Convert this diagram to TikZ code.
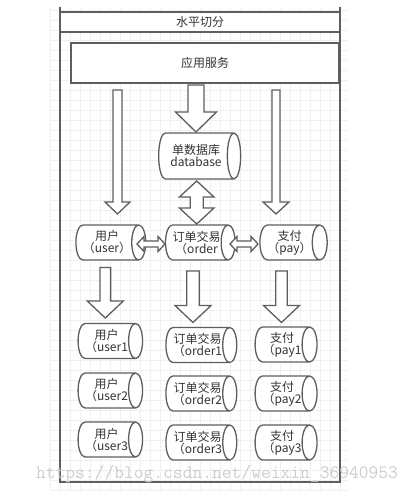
\documentclass[tikz,border=0pt]{standalone}
\usepackage{fontspec}
\newfontfamily\cjkfont{Noto Sans CJK SC}
\usetikzlibrary{shapes.geometric}
\definecolor{lnclr}{HTML}{5E5E5E}
\definecolor{txclr}{HTML}{333333}
\definecolor{gridclr}{HTML}{F0F0F0}
\definecolor{wmclr}{HTML}{CDCDCD}

% block arrow pointing down: x, top, tip, shaft half, head half, head length
\newcommand{\downblock}[6]{%
  \draw[blk] ({#1-#4},#2) -- ({#1+#4},#2) -- ({#1+#4},{#3-#6}) -- ({#1+#5},{#3-#6})
    -- (#1,#3) -- ({#1-#5},{#3-#6}) -- ({#1-#4},{#3-#6}) -- cycle;}
% two-headed block arrows: vertical (x, top, bottom, ...) and horizontal (y, left, right, ...)
\newcommand{\vdouble}[6]{%
  \draw[blk] (#1,#2) -- ({#1+#5},{#2+#6}) -- ({#1+#4},{#2+#6}) -- ({#1+#4},{#3-#6})
    -- ({#1+#5},{#3-#6}) -- (#1,#3) -- ({#1-#5},{#3-#6}) -- ({#1-#4},{#3-#6})
    -- ({#1-#4},{#2+#6}) -- ({#1-#5},{#2+#6}) -- cycle;}
\newcommand{\hdouble}[6]{%
  \draw[blk] (#2,#1) -- ({#2+#6},{#1-#5}) -- ({#2+#6},{#1-#4}) -- ({#3-#6},{#1-#4})
    -- ({#3-#6},{#1-#5}) -- (#3,#1) -- ({#3-#6},{#1+#5}) -- ({#3-#6},{#1+#4})
    -- ({#2+#6},{#1+#4}) -- ({#2+#6},{#1+#5}) -- cycle;}

\begin{document}
\begin{tikzpicture}[x=1pt, y=-1pt, text=txclr,
    font=\cjkfont\fontsize{12pt}{12pt}\selectfont,
    frame/.style={draw=lnclr, line width=1.4pt},
    blk/.style={draw=lnclr, fill=white, line width=1.3pt, line join=miter},
    % cylinder lying on its side: minimum height is its length, minimum width its diameter
    store/.style={cylinder, draw=lnclr, fill=white, line width=1.3pt, aspect=0.6,
      minimum height=63pt, minimum width=35pt, inner sep=0pt, align=center},
  ]
  \useasboundingbox (0,0) rectangle (414,497);

  % background grid
  \draw[gridclr, line width=0.4pt, step=10pt] (50,7) grid (348,490);

  % swimlane
  \fill[white] (60,12) rectangle (340,32);
  \draw[frame] (60,7) -- (60,482) -- (340,482) -- (340,7);
  \draw[frame] (60,12) -- (340,12);
  \draw[frame] (60,32) -- (340,32);
  \node (title) at (200,22) {水平切分};

  % application layer
  \node[draw=lnclr, fill=white, line width=1.4pt, minimum width=268pt, minimum height=40pt,
    inner sep=0pt] (app) at (205,63) {应用服务};

  % single database and first split
  \node[store, minimum height=82pt, minimum width=46pt] (db) at (196,156) {单数据库\\database};
  \node[store, minimum height=62pt] (user) at (107,242.5) {用户\\（user）};
  \node[store] (order) at (196.5,242.5) {订单交易\\（order};
  \node[store] (pay) at (289.5,242.5) {支付\\（pay）};

  \downblock{117.5}{90}{214}{4.5}{12.5}{12}
  \downblock{196}{85}{132}{8}{20.5}{20}
  \downblock{276}{90}{214}{4}{13}{12}
  \vdouble{196.7}{181}{224}{6.5}{17.3}{16}
  \hdouble{244}{137}{165}{3}{7.5}{7}
  \hdouble{244}{230}{258}{3}{7.5}{7}

  % horizontal split into tables
  \downblock{105.3}{267.5}{318}{5.3}{18}{17}
  \downblock{193}{271}{322.5}{6.3}{18}{17}
  \downblock{281.5}{271}{322.5}{5.8}{18}{17}

  \foreach \i/\yu/\yo/\yp in {1/341/345/344.5, 2/390.5/393.5/393.5, 3/439.5/442.5/442.5} {
    \node[store] (user\i) at (106.5,\yu) {用户\\（user\i};
    \node[store, minimum height=69pt] (order\i) at (197.5,\yo) {订单交易\\（order\i};
    \node[store, minimum height=61pt] (pay\i) at (282,\yp) {支付\\（pay\i};
  }

  % watermark
  \node[text=wmclr, font=\ttfamily\fontsize{19pt}{19pt}\selectfont] (mark) at (217,474)
    {https://blog.csdn.net/weixin\_36940953};
\end{tikzpicture}
\end{document}
